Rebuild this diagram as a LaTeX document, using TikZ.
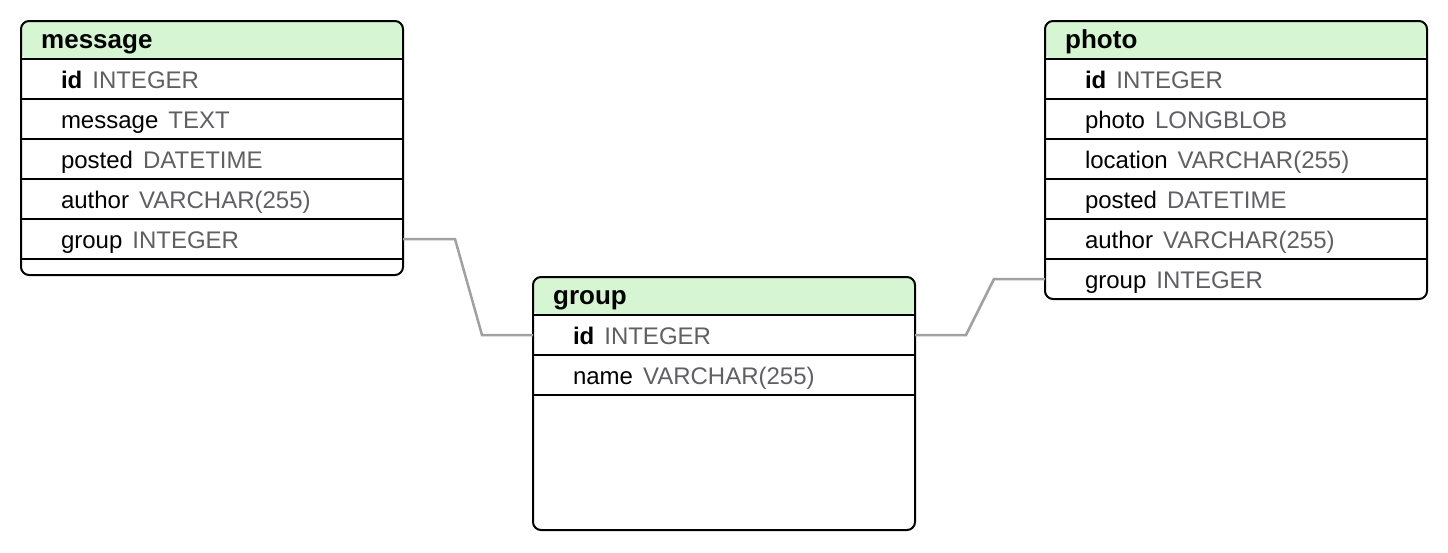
\documentclass[tikz,border=0pt]{standalone}
\usepackage{fontspec}
\setmainfont{Liberation Sans}
\definecolor{hdrgreen}{RGB}{214,245,210}
\definecolor{typegray}{RGB}{96,96,100}
\definecolor{linkgray}{RGB}{160,160,160}
\newcommand\ty[1]{\hspace{10pt}\textcolor{typegray}{#1}}
\tikzset{
  tbl/.style={draw=black, line width=2pt, rounded corners=8pt, fill=white,
    minimum width=382pt, inner sep=0pt, outer sep=0pt, anchor=north west,
    path picture={\fill[hdrgreen] (path picture bounding box.north west) rectangle ([yshift=-38pt]path picture bounding box.north east);}},
  title/.style={anchor=base west, inner sep=0pt, font=\fontsize{26pt}{30pt}\selectfont\bfseries},
  rowbox/.style={anchor=north west, minimum height=40pt, inner xsep=40pt, inner ysep=0pt,
    text width=302pt, align=left, text height=18pt, text depth=0pt, outer sep=0pt,
    font=\fontsize{24pt}{28pt}\selectfont},
  sep/.style={draw=black, line width=2pt},
  link/.style={draw=linkgray, line width=2.5pt}
}
\begin{document}
\begin{tikzpicture}[x=1pt,y=-1pt]
\useasboundingbox (0,0) rectangle (1448,552);

% message table
\node[tbl, minimum height=254pt] (message) at (21,21) {};
\node[title] (message-t) at ([xshift=20pt,yshift=-27pt]message.north west) {message};
\node[rowbox] (m1) at ([yshift=-38pt]message.north west) {{\bfseries id}\ty{INTEGER}};
\node[rowbox] (m2) at (m1.south west) {message\ty{TEXT}};
\node[rowbox] (m3) at (m2.south west) {posted\ty{DATETIME}};
\node[rowbox] (m4) at (m3.south west) {author\ty{VARCHAR(255)}};
\node[rowbox] (m5) at (m4.south west) {group\ty{INTEGER}};
\foreach \r in {m1,m2,m3,m4,m5} \draw[sep] (\r.north west) -- (\r.north east);
\draw[sep] (m5.south west) -- (m5.south east);

% group table
\node[tbl, minimum height=253pt] (group) at (533,277) {};
\node[title] (group-t) at ([xshift=20pt,yshift=-27pt]group.north west) {group};
\node[rowbox] (g1) at ([yshift=-38pt]group.north west) {{\bfseries id}\ty{INTEGER}};
\node[rowbox] (g2) at (g1.south west) {name\ty{VARCHAR(255)}};
\foreach \r in {g1,g2} \draw[sep] (\r.north west) -- (\r.north east);
\draw[sep] (g2.south west) -- (g2.south east);

% photo table
\node[tbl, minimum height=278pt] (photo) at (1045,21) {};
\node[title] (photo-t) at ([xshift=20pt,yshift=-27pt]photo.north west) {photo};
\node[rowbox] (p1) at ([yshift=-38pt]photo.north west) {{\bfseries id}\ty{INTEGER}};
\node[rowbox] (p2) at (p1.south west) {photo\ty{LONGBLOB}};
\node[rowbox] (p3) at (p2.south west) {location\ty{VARCHAR(255)}};
\node[rowbox] (p4) at (p3.south west) {posted\ty{DATETIME}};
\node[rowbox] (p5) at (p4.south west) {author\ty{VARCHAR(255)}};
\node[rowbox] (p6) at (p5.south west) {group\ty{INTEGER}};
\foreach \r in {p1,p2,p3,p4,p5,p6} \draw[sep] (\r.north west) -- (\r.north east);

% connectors
\draw[link] (m5.east) -- ([xshift=52pt]m5.east) -- ([xshift=-51pt]g1.west) -- (g1.west);
\draw[link] (g1.east) -- ([xshift=51pt]g1.east) -- ([xshift=-51pt]p6.west) -- (p6.west);
\end{tikzpicture}
\end{document}
